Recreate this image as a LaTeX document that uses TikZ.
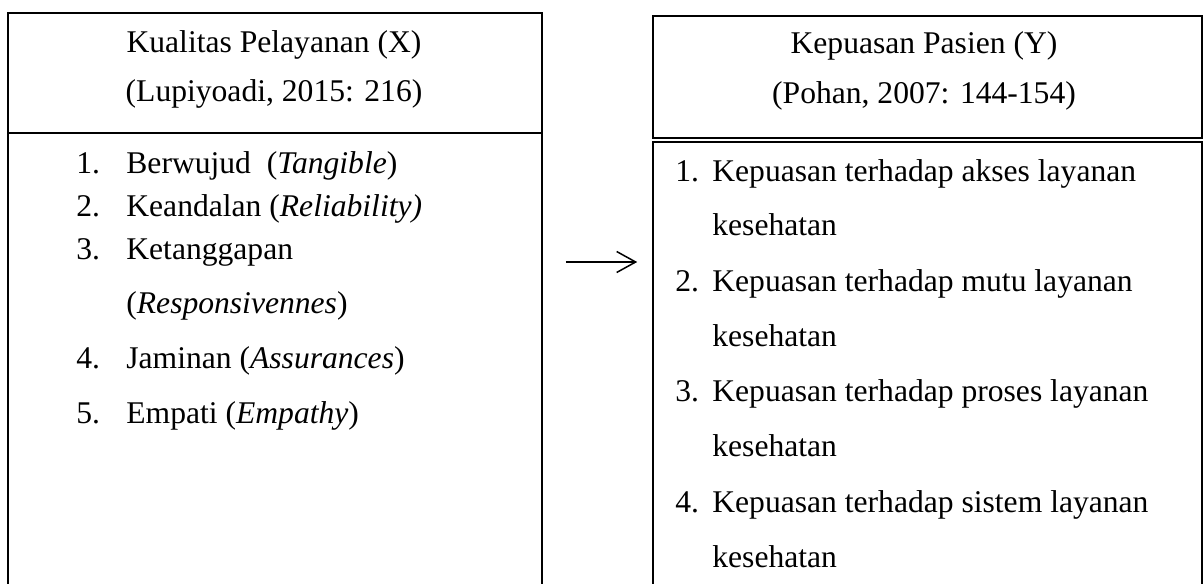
\documentclass[tikz,border=0pt]{standalone}
\usepackage{fontspec}
\setmainfont{Liberation Serif}
\usetikzlibrary{arrows.meta}
\newcommand{\numX}[1]{\makebox[25pt][l]{#1}}
\newcommand{\numY}[1]{\makebox[18.5pt][l]{#1}}

\begin{document}
\begin{tikzpicture}[x=0.5pt,y=-0.5pt]
\tikzset{every node/.style={font=\fontsize{15.8}{19}\selectfont,inner sep=0pt}}
\tikzset{box/.style={draw,line width=0.8pt}}
\tikzset{head/.style={anchor=base}}
\tikzset{item/.style={anchor=base west}}
\clip (0,0) rectangle (1203,583);
\node[box,minimum width=267pt,minimum height=60pt] (headX) at (275,73) {};
\node[box,minimum width=267pt,minimum height=258.5pt] (bodyX) at (275,391.5) {};
\node[box,minimum width=274.5pt,minimum height=61pt] (headY) at (927.5,77) {};
\node[box,minimum width=274.5pt,minimum height=254pt] (bodyY) at (927.5,396) {};
\node[head] (titleX) at (274,53) {Kualitas Pelayanan (X)};
\node[head] (sourceX) at (274,102) {(Lupiyoadi, 2015: 216)};
\node[head] (titleY) at (924,54) {Kepuasan Pasien (Y)};
\node[head] (sourceY) at (924,104) {(Pohan, 2007: 144-154)};
\node[item] (itemX1) at (76,173) {\numX{1.}Berwujud \ (\textit{Tangible})};
\node[item] (itemX2) at (76,216) {\numX{2.}Keandalan (\textit{Reliability)}};
\node[item] (itemX3) at (76,259) {\numX{3.}Ketanggapan};
\node[item] (contX3) at (126,313) {(\textit{Responsivennes})};
\node[item] (itemX4) at (76,368) {\numX{4.}Jaminan (\textit{Assurances})};
\node[item] (itemX5) at (76,423) {\numX{5.}Empati (\textit{Empathy})};
\node[item] (itemY1) at (675,181) {\numY{1.}Kepuasan terhadap akses layanan};
\node[item] (contY1) at (712,235) {kesehatan};
\node[item] (itemY2) at (675,291) {\numY{2.}Kepuasan terhadap mutu layanan};
\node[item] (contY2) at (712,346) {kesehatan};
\node[item] (itemY3) at (675,401) {\numY{3.}Kepuasan terhadap proses layanan};
\node[item] (contY3) at (712,456) {kesehatan};
\node[item] (itemY4) at (675,512) {\numY{4.}Kepuasan terhadap sistem layanan};
\node[item] (contY4) at (712,567) {kesehatan};
\draw[-{Straight Barb[length=9.5pt,width=10.5pt]},line width=0.75pt,shorten <=11.5pt,shorten >=7.5pt] (bodyX.east |- 0,262) -- (bodyY.west |- 0,262);
\end{tikzpicture}
\end{document}
